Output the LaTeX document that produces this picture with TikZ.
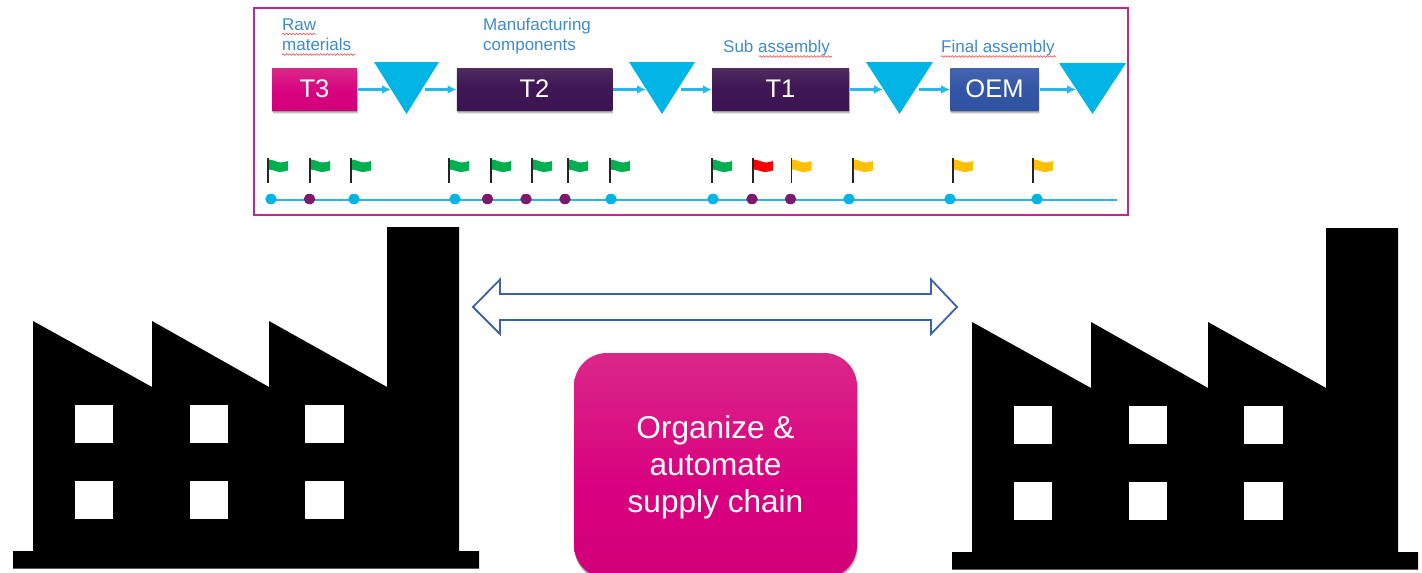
\documentclass[tikz,border=0pt]{standalone}
\usepackage{fontspec}
\setmainfont{Liberation Sans}
\usetikzlibrary{arrows.meta,shapes.geometric,decorations.pathmorphing,backgrounds}
\definecolor{cyanT}{HTML}{00B5E5}
\definecolor{cyanL}{HTML}{25B9E8}
\definecolor{purpleD}{HTML}{7E1A6E}
\definecolor{panelB}{HTML}{C4258E}
\definecolor{labelB}{HTML}{3F8BCB}
\definecolor{arrowB}{HTML}{3C62AC}
\definecolor{flagG}{HTML}{00B050}
\definecolor{flagR}{HTML}{FF0000}
\definecolor{flagY}{HTML}{FFC000}
\definecolor{squig}{HTML}{EE5F5B}
\definecolor{pinkA}{HTML}{C80070}
\definecolor{pinkB}{HTML}{D9007F}
\definecolor{pinkC}{HTML}{DB4892}
\definecolor{plumA}{HTML}{3A1050}
\definecolor{plumB}{HTML}{401856}
\definecolor{plumC}{HTML}{60466A}
\definecolor{blueA}{HTML}{2C4E9E}
\definecolor{blueB}{HTML}{3256A5}
\definecolor{blueC}{HTML}{5872BA}
\pgfdeclareverticalshading{pinkgrad}{100bp}{color(0bp)=(pinkA);color(45bp)=(pinkB);color(100bp)=(pinkC)}
\pgfdeclareverticalshading{plumgrad}{100bp}{color(0bp)=(plumA);color(55bp)=(plumB);color(100bp)=(plumC)}
\pgfdeclareverticalshading{bluegrad}{100bp}{color(0bp)=(blueA);color(50bp)=(blueB);color(100bp)=(blueC)}
\tikzset{
  softshadow/.style={
    preaction={fill=black,fill opacity=.10,transform canvas={xshift=1pt,yshift=-3.5pt}},
    preaction={fill=black,fill opacity=.15,transform canvas={xshift=.5pt,yshift=-2.5pt}},
    preaction={fill=black,fill opacity=.20,transform canvas={yshift=-1.5pt}}},
  stage/.style={softshadow,rectangle,shading=#1,text=white,minimum height=42pt,inner sep=0pt,font=\fontsize{25.5}{25.5}\selectfont},
  stagelabel/.style={text=labelB,inner sep=0pt,anchor=base west,align=left,font=\fontsize{17}{20}\selectfont},
  flow/.style={draw=cyanL,line width=2.2pt,-{Latex[length=9pt,width=9pt]}},
  squiggle/.style={draw=squig,line width=.7pt,decorate,decoration={snake,amplitude=.8pt,segment length=3.4pt}},
  cydot/.style={ellipse,fill=cyanT,minimum width=11.5pt,minimum height=10.5pt,inner sep=0pt},
  pudot/.style={ellipse,fill=purpleD,minimum width=11.5pt,minimum height=10.5pt,inner sep=0pt},
}
\newcommand{\mytri}[4]{% name, left, right, top
  \fill[cyanT] (#2,#4) -- (#3,#4) -- ({(#2+#3)/2},114) -- cycle;
  \coordinate (#1in) at ({#2+17},89.5);
  \coordinate (#1out) at ({#3-14},89.5);
}
\newcommand{\myflag}[2]{% x, colour
  \begin{scope}[shift={(#1,0)}]
    \fill[#2] (0.5,159.5) .. controls (5,159.5) and (9,162.5) .. (13,162.5)
      .. controls (16,162.5) and (18,161.5) .. (20,161) -- (20,170.5)
      .. controls (17,171) and (15,172) .. (12,172)
      .. controls (8,172) and (5,169.5) .. (0.5,169.5) -- cycle;
    \draw[black!85,line width=1.8pt] (0,158) -- (0,183);
  \end{scope}
}
\newcommand{\myfactory}[2]{% dx, dy
  \begin{scope}[shift={(#1,#2)}]
    \fill[black] (13,568.5) -- (13,551) -- (33,551) -- (33,321) -- (152,387) -- (152,321)
      -- (269,387) -- (269,321) -- (387,387) -- (387,227) -- (459,227) -- (459,551)
      -- (479,551) -- (479,568.5) -- cycle;
    \foreach \wx/\ww in {75/37.5,190/38,305/39}
      \foreach \wy in {405,481}
        \fill[white] (\wx,\wy) rectangle ++(\ww,38);
  \end{scope}
}
\begin{document}
\begin{tikzpicture}[x=1pt,y=-1pt]
\useasboundingbox (0,0) rectangle (1422,573);
\begin{pgfonlayer}{background}
\fill[white] (0,0) rectangle (1422,573);
\end{pgfonlayer}
% panel
\draw[panelB,line width=2pt] (253.5,8) rectangle (1128,215);
% stages
\node[stage=pinkgrad,minimum width=85pt] (t3) at (314.5,89) {T3};
\node[stage=plumgrad,minimum width=155.5pt] (t2) at (534.5,89) {T2};
\node[stage=plumgrad,minimum width=137pt] (t1) at (780.5,89) {T1};
\node[stage=bluegrad,minimum width=88.5pt] (oem) at (994.5,89) {OEM};
% triangles
\mytri{a}{374}{439}{62}
\mytri{b}{629}{695}{62}
\mytri{c}{866}{933}{62}
\mytri{d}{1059}{1126}{63}
% flows
\draw[flow] ([xshift=1pt]t3.east |- 0,89.5) -- (ain);
\draw[flow] (aout) -- (t2.west |- 0,89.5);
\draw[flow] ([xshift=1pt]t2.east |- 0,89.5) -- (bin);
\draw[flow] (bout) -- (t1.west |- 0,89.5);
\draw[flow] ([xshift=1pt]t1.east |- 0,89.5) -- (cin);
\draw[flow] (cout) -- (oem.west |- 0,89.5);
\draw[flow] ([xshift=1pt]oem.east |- 0,89.5) -- (din);
% labels
\node[stagelabel] (lraw) at (282,50) {Raw\\materials};
\node[stagelabel] (lman) at (483,50) {Manufacturing\\components};
\node[stagelabel] (lsub) at (723,52) {Sub assembly};
\node[stagelabel] (lfin) at (941,52) {Final assembly};
\draw[squiggle] (282,34) -- (316,34);
\draw[squiggle] (282,54.5) -- (355,54.5);
\draw[squiggle] (759,56.5) -- (832,56.5);
\draw[squiggle] (941,56.5) -- (1056,56.5);
% flags
\foreach \fx in {268,310,351,449,491,532,568,610,712} {\myflag{\fx}{flagG}}
\myflag{753}{flagR}
\foreach \fx in {791.5,853,953,1033} {\myflag{\fx}{flagY}}
% timeline
\foreach \n/\dx/\st in {1/271/cydot,2/309.5/pudot,3/354/cydot,4/455/cydot,5/487.5/pudot,6/526/pudot,7/565/pudot,8/611/cydot,9/713/cydot,10/752/pudot,11/790.5/pudot,12/849/cydot,13/950/cydot,14/1037/cydot}
  \node[\st] (dot\n) at (\dx,199) {};
\coordinate (lineend) at (1117,200);
\begin{pgfonlayer}{background}
\draw[cyanL,line width=1.6pt] (dot1 |- lineend) -- (lineend);
\end{pgfonlayer}
% factories
\myfactory{0}{0}
\myfactory{939}{1}
% double arrow
\draw[arrowB,line width=1.8pt,fill=white,line join=miter]
  (473,307) -- (500,279.5) -- (500,294) -- (931,294) -- (931,279.5) -- (957,307)
  -- (931,334) -- (931,320) -- (500,320) -- (500,334) -- cycle;
% organize box
\node[softshadow,shading=pinkgrad,rounded corners=33pt,minimum width=283pt,minimum height=225pt,
  inner sep=0pt] (org) at (715.5,465.5) {};
\node[inner sep=0pt,text=white,align=center,font=\fontsize{31.6}{37}\selectfont] (orgtext) at (715.5,467.5)
  {Organize \&\\automate\\supply chain};
\end{tikzpicture}
\end{document}
